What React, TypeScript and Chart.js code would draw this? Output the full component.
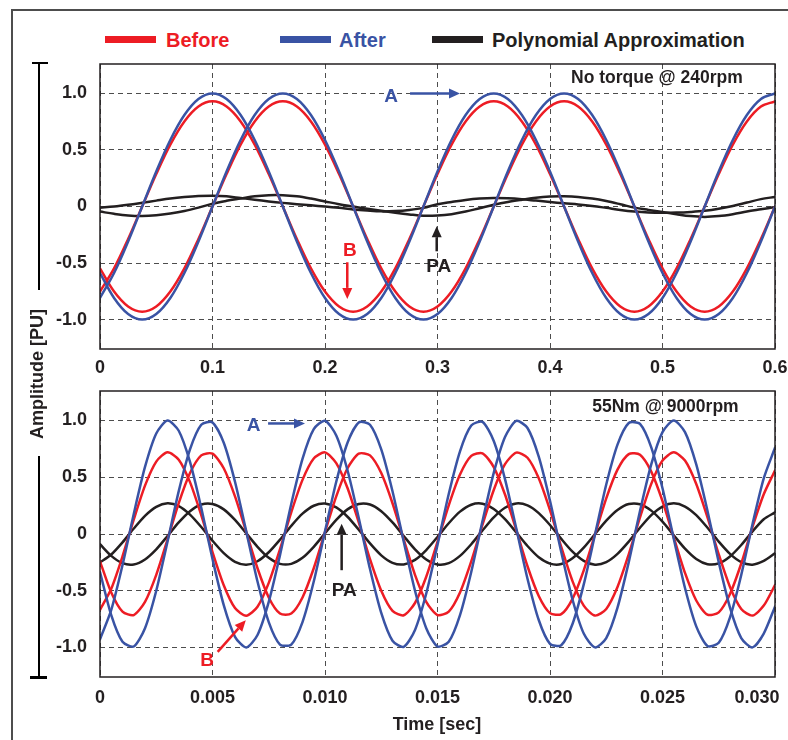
import React, { useEffect, useRef } from 'react';
import { Chart, registerables } from 'chart.js';

Chart.register(...registerables);

const FONT = '"Liberation Sans", Arial, Helvetica, sans-serif';
const RED = '#ed1c24';
const BLUE = '#3953a4';
const INK = '#231f20';
const GRID = '#4d4d4d';

// ---------- Top panel: No torque @ 240rpm ----------
const topTime = [0, 0.0125, 0.025, 0.0375, 0.05, 0.0625, 0.075, 0.0875, 0.1, 0.1125, 0.125, 0.1375, 0.15, 0.1625, 0.175, 0.1875, 0.2, 0.2125, 0.225, 0.2375, 0.25, 0.2625, 0.275, 0.2875, 0.3, 0.3125, 0.325, 0.3375, 0.35, 0.3625, 0.375, 0.3875, 0.4, 0.4125, 0.425, 0.4375, 0.45, 0.4625, 0.475, 0.4875, 0.5, 0.5125, 0.525, 0.5375, 0.55, 0.5625, 0.575, 0.5875, 0.6];
const topAfterA = [-0.809, -0.588, -0.309, 0, 0.309, 0.588, 0.809, 0.951, 1, 0.951, 0.809, 0.588, 0.309, 0, -0.309, -0.588, -0.809, -0.951, -1, -0.951, -0.809, -0.588, -0.309, 0, 0.309, 0.588, 0.809, 0.951, 1, 0.951, 0.809, 0.588, 0.309, 0, -0.309, -0.588, -0.809, -0.951, -1, -0.951, -0.809, -0.588, -0.309, 0, 0.309, 0.588, 0.809, 0.951, 1];
const topAfterB = [-0.588, -0.809, -0.951, -1, -0.951, -0.809, -0.588, -0.309, 0, 0.309, 0.588, 0.809, 0.951, 1, 0.951, 0.809, 0.588, 0.309, 0, -0.309, -0.588, -0.809, -0.951, -1, -0.951, -0.809, -0.588, -0.309, 0, 0.309, 0.588, 0.809, 0.951, 1, 0.951, 0.809, 0.588, 0.309, 0, -0.309, -0.588, -0.809, -0.951, -1, -0.951, -0.809, -0.588, -0.309, 0];
const topBeforeA = [-0.752, -0.547, -0.287, 0, 0.287, 0.547, 0.752, 0.884, 0.93, 0.884, 0.752, 0.547, 0.287, 0, -0.287, -0.547, -0.752, -0.884, -0.93, -0.884, -0.752, -0.547, -0.287, 0, 0.287, 0.547, 0.752, 0.884, 0.93, 0.884, 0.752, 0.547, 0.287, 0, -0.287, -0.547, -0.752, -0.884, -0.93, -0.884, -0.752, -0.547, -0.287, 0, 0.287, 0.547, 0.752, 0.884, 0.93];
const topBeforeB = [-0.547, -0.752, -0.884, -0.93, -0.884, -0.752, -0.547, -0.287, 0, 0.287, 0.547, 0.752, 0.884, 0.93, 0.884, 0.752, 0.547, 0.287, 0, -0.287, -0.547, -0.752, -0.884, -0.93, -0.884, -0.752, -0.547, -0.287, 0, 0.287, 0.547, 0.752, 0.884, 0.93, 0.884, 0.752, 0.547, 0.287, 0, -0.287, -0.547, -0.752, -0.884, -0.93, -0.884, -0.752, -0.547, -0.287, 0];
const topPolyA = [-0.01, 0.0, 0.015, 0.033, 0.052, 0.07, 0.083, 0.092, 0.095, 0.09, 0.075, 0.06, 0.045, 0.032, 0.02, 0.01, 0.0, -0.012, -0.026, -0.036, -0.043, -0.04, -0.03, -0.012, 0.02, 0.04, 0.058, 0.07, 0.075, 0.072, 0.064, 0.052, 0.04, 0.028, 0.018, 0.005, -0.012, -0.03, -0.044, -0.053, -0.056, -0.054, -0.048, -0.038, -0.02, 0.005, 0.035, 0.065, 0.085];
const topPolyB = [-0.045, -0.065, -0.08, -0.085, -0.078, -0.062, -0.04, -0.01, 0.025, 0.05, 0.07, 0.09, 0.1, 0.1, 0.09, 0.07, 0.045, 0.02, 0.0, -0.02, -0.038, -0.055, -0.07, -0.082, -0.08, -0.068, -0.045, -0.015, 0.015, 0.04, 0.06, 0.078, 0.088, 0.09, 0.085, 0.07, 0.048, 0.02, -0.01, -0.03, -0.048, -0.068, -0.085, -0.092, -0.085, -0.068, -0.045, -0.025, -0.005];
const topXTicks = [0, 0.1, 0.2, 0.3, 0.4, 0.5, 0.6];
const topXLabels = ['0', '0.1', '0.2', '0.3', '0.4', '0.5', '0.6'];

// ---------- Bottom panel: 55Nm @ 9000rpm ----------
const botTime = [0, 0.0005, 0.001, 0.0015, 0.002, 0.0025, 0.003, 0.0035, 0.004, 0.0045, 0.005, 0.0055, 0.006, 0.0065, 0.007, 0.0075, 0.008, 0.0085, 0.009, 0.0095, 0.01, 0.0105, 0.011, 0.0115, 0.012, 0.0125, 0.013, 0.0135, 0.014, 0.0145, 0.015, 0.0155, 0.016, 0.0165, 0.017, 0.0175, 0.018, 0.0185, 0.019, 0.0195, 0.02, 0.0205, 0.021, 0.0215, 0.022, 0.0225, 0.023, 0.0235, 0.024, 0.0245, 0.025, 0.0255, 0.026, 0.0265, 0.027, 0.0275, 0.028, 0.0285, 0.029, 0.0295, 0.03];
const botAfterA = [-0.928, -0.669, -0.274, 0.177, 0.591, 0.886, 1.0, 0.91, 0.635, 0.23, -0.221, -0.627, -0.906, -1.0, -0.89, -0.598, -0.186, 0.265, 0.662, 0.924, 0.998, 0.868, 0.562, 0.141, -0.309, -0.696, -0.941, -0.994, -0.845, -0.524, -0.096, 0.352, 0.728, 0.955, 0.988, 0.82, 0.484, 0.05, -0.394, -0.758, -0.968, -0.98, -0.793, -0.444, -0.005, 0.436, 0.787, 0.978, 0.97, 0.764, 0.403, -0.041, -0.476, -0.814, -0.987, -0.958, -0.734, -0.361, 0.086, 0.49, 0.76];
const botAfterB = [-0.335, -0.715, -0.95, -0.991, -0.83, -0.5, -0.068, 0.378, 0.746, 0.963, 0.983, 0.804, 0.46, 0.023, -0.419, -0.776, -0.974, -0.974, -0.776, -0.419, 0.023, 0.46, 0.804, 0.983, 0.963, 0.746, 0.377, -0.068, -0.5, -0.83, -0.991, -0.95, -0.715, -0.335, 0.114, 0.539, 0.854, 0.996, 0.934, 0.682, 0.292, -0.159, -0.577, -0.877, -0.999, -0.917, -0.649, -0.248, 0.203, 0.614, 0.898, 1.0, 0.898, 0.613, 0.203, -0.248, -0.649, -0.917, -0.999, -0.877, -0.64];
const botBeforeA = [-0.668, -0.482, -0.197, 0.127, 0.426, 0.638, 0.72, 0.655, 0.457, 0.166, -0.159, -0.451, -0.652, -0.72, -0.641, -0.431, -0.134, 0.191, 0.477, 0.665, 0.719, 0.625, 0.405, 0.102, -0.222, -0.501, -0.678, -0.716, -0.608, -0.377, -0.069, 0.253, 0.524, 0.688, 0.711, 0.59, 0.348, 0.036, -0.284, -0.546, -0.697, -0.706, -0.571, -0.32, -0.004, 0.314, 0.567, 0.704, 0.698, 0.55, 0.29, -0.03, -0.343, -0.586, -0.711, -0.69, -0.528, -0.26, 0.062, 0.35, 0.56];
const botBeforeB = [-0.241, -0.515, -0.684, -0.714, -0.598, -0.36, -0.049, 0.272, 0.537, 0.693, 0.708, 0.579, 0.331, 0.017, -0.302, -0.559, -0.701, -0.701, -0.559, -0.302, 0.017, 0.331, 0.579, 0.708, 0.693, 0.537, 0.271, -0.049, -0.36, -0.598, -0.714, -0.684, -0.515, -0.241, 0.082, 0.388, 0.615, 0.717, 0.672, 0.491, 0.21, -0.114, -0.415, -0.631, -0.719, -0.66, -0.467, -0.179, 0.146, 0.442, 0.647, 0.72, 0.647, 0.441, 0.146, -0.179, -0.467, -0.66, -0.719, -0.631, -0.45];
const botPolyA = [-0.251, -0.181, -0.074, 0.048, 0.16, 0.239, 0.27, 0.246, 0.171, 0.062, -0.06, -0.169, -0.245, -0.27, -0.24, -0.161, -0.05, 0.072, 0.179, 0.249, 0.269, 0.234, 0.152, 0.038, -0.083, -0.188, -0.254, -0.268, -0.228, -0.141, -0.026, 0.095, 0.197, 0.258, 0.267, 0.221, 0.131, 0.014, -0.106, -0.205, -0.261, -0.265, -0.214, -0.12, -0.001, 0.118, 0.212, 0.264, 0.262, 0.206, 0.109, -0.011, -0.129, -0.22, -0.266, -0.259, -0.198, -0.097, 0.023, 0.13, 0.19];
const botPolyB = [-0.09, -0.193, -0.257, -0.268, -0.224, -0.135, -0.018, 0.102, 0.201, 0.26, 0.265, 0.217, 0.124, 0.006, -0.113, -0.21, -0.263, -0.263, -0.21, -0.113, 0.006, 0.124, 0.217, 0.265, 0.26, 0.201, 0.102, -0.018, -0.135, -0.224, -0.268, -0.257, -0.193, -0.09, 0.031, 0.146, 0.231, 0.269, 0.252, 0.184, 0.079, -0.043, -0.156, -0.237, -0.27, -0.248, -0.175, -0.067, 0.055, 0.166, 0.242, 0.27, 0.242, 0.166, 0.055, -0.067, -0.175, -0.248, -0.27, -0.237, -0.17];
const botXTicks = [0, 0.005, 0.01, 0.015, 0.02, 0.025, 0.03];
const botXLabels = ['0', '0.005', '0.010', '0.015', '0.020', '0.025', '0.030'];

// ---------- shared y axis ----------
const yTicks = [-1, -0.5, 0, 0.5, 1];
const yLabels = ['-1.0', '-0.5', '0', '0.5', '1.0'];
const Y_MIN = -1.26;
const Y_MAX = 1.26;

type Note = { text: string; x: number; y: number; color: string; size: number };
type Arrow = { x1: number; y1: number; x2: number; y2: number; color: string };

const topNotes: Note[] = [
  { text: 'No torque @ 240rpm', x: 0.495, y: 1.133, color: INK, size: 17.5 },
  { text: 'A', x: 0.2587, y: 0.973, color: BLUE, size: 19 },
  { text: 'B', x: 0.222, y: -0.388, color: RED, size: 19 },
  { text: 'PA', x: 0.3012, y: -0.535, color: INK, size: 19 },
];
const topArrows: Arrow[] = [
  { x1: 0.2756, y1: 1.0, x2: 0.32, y2: 1.0, color: BLUE },
  { x1: 0.2198, y1: -0.493, x2: 0.2198, y2: -0.817, color: RED },
  { x1: 0.2993, y1: -0.396, x2: 0.2993, y2: -0.174, color: INK },
];
const botNotes: Note[] = [
  { text: '55Nm @ 9000rpm', x: 0.02513, y: 1.117, color: INK, size: 17.5 },
  { text: 'A', x: 0.00683, y: 0.955, color: BLUE, size: 19 },
  { text: 'PA', x: 0.01085, y: -0.502, color: INK, size: 19 },
  { text: 'B', x: 0.00476, y: -1.118, color: RED, size: 19 },
];
const botArrows: Arrow[] = [
  { x1: 0.00747, y1: 0.974, x2: 0.00911, y2: 0.974, color: BLUE },
  { x1: 0.01074, y1: -0.319, x2: 0.01074, y2: 0.091, color: INK },
  { x1: 0.00523, y1: -1.038, x2: 0.00648, y2: -0.759, color: RED },
];

function notesPlugin(notes: Note[], arrows: Arrow[]) {
  return {
    id: 'notes',
    afterDatasetsDraw(chart: any) {
      const { ctx, chartArea: a, scales } = chart;
      const sx = scales.x;
      const sy = scales.y;
      ctx.save();
      ctx.setLineDash([]);
      ctx.strokeStyle = INK;
      ctx.lineWidth = 1.5;
      ctx.strokeRect(a.left, a.top, a.right - a.left, a.bottom - a.top);
      for (const n of notes) {
        ctx.font = `bold ${n.size}px ${FONT}`;
        ctx.fillStyle = n.color;
        ctx.textAlign = 'center';
        ctx.textBaseline = 'middle';
        ctx.fillText(n.text, sx.getPixelForValue(n.x), sy.getPixelForValue(n.y));
      }
      for (const ar of arrows) {
        const x1 = sx.getPixelForValue(ar.x1);
        const y1 = sy.getPixelForValue(ar.y1);
        const x2 = sx.getPixelForValue(ar.x2);
        const y2 = sy.getPixelForValue(ar.y2);
        const ang = Math.atan2(y2 - y1, x2 - x1);
        const L = 11;
        const W = 5;
        const bx = x2 - L * Math.cos(ang);
        const by = y2 - L * Math.sin(ang);
        ctx.strokeStyle = ar.color;
        ctx.lineWidth = 2.5;
        ctx.beginPath();
        ctx.moveTo(x1, y1);
        ctx.lineTo(bx, by);
        ctx.stroke();
        ctx.fillStyle = ar.color;
        ctx.beginPath();
        ctx.moveTo(x2, y2);
        ctx.lineTo(bx + W * Math.sin(ang), by - W * Math.cos(ang));
        ctx.lineTo(bx - W * Math.sin(ang), by + W * Math.cos(ang));
        ctx.closePath();
        ctx.fill();
      }
      ctx.restore();
    },
  };
}

type PanelProps = {
  top: number;
  height: number;
  padTop: number;
  xAxisHeight: number;
  xPad: number;
  time: number[];
  series: { values: number[]; color: string }[];
  xMax: number;
  xTicks: number[];
  xLabels: string[];
  lastLabelShift: number;
  notes: Note[];
  arrows: Arrow[];
  tension: number;
};

const CANVAS_W = 830;

function Panel(p: PanelProps) {
  const ref = useRef<HTMLCanvasElement>(null);
  useEffect(() => {
    const tickFont = { family: FONT, size: 18, weight: 'bold' as const };
    const chart = new Chart(ref.current as HTMLCanvasElement, {
      type: 'line',
      data: {
        datasets: p.series.map((s) => ({
          data: p.time.map((t, i) => ({ x: t, y: s.values[i] })),
          borderColor: s.color,
          borderWidth: 2.5,
          pointRadius: 0,
          fill: false,
          tension: p.tension,
          borderJoinStyle: 'round' as const,
          borderCapStyle: 'round' as const,
        })),
      },
      options: {
        animation: false,
        responsive: false,
        devicePixelRatio: 1,
        events: [],
        layout: { padding: { top: p.padTop, right: CANVAS_W - 775, left: 0, bottom: 0 } },
        plugins: { legend: { display: false }, tooltip: { enabled: false }, title: { display: false } },
        scales: {
          x: {
            type: 'linear',
            min: 0,
            max: p.xMax,
            afterFit: (s: any) => {
              s.height = p.xAxisHeight;
            },
            afterBuildTicks: (s: any) => {
              s.ticks = p.xTicks.map((v) => ({ value: v }));
            },
            ticks: {
              autoSkip: false,
              maxRotation: 0,
              minRotation: 0,
              padding: p.xPad,
              color: INK,
              font: tickFont,
              callback: (_v: any, i: number) =>
                i === p.xLabels.length - 1 && p.lastLabelShift > 0
                  ? p.xLabels[i] + '\u2002'.repeat(p.lastLabelShift)
                  : p.xLabels[i],
            },
            grid: { color: GRID, lineWidth: 1, drawTicks: false },
            border: { display: false, dash: [5, 4] },
          },
          y: {
            type: 'linear',
            min: Y_MIN,
            max: Y_MAX,
            afterFit: (s: any) => {
              s.width = 100;
            },
            afterBuildTicks: (s: any) => {
              s.ticks = yTicks.map((v) => ({ value: v }));
            },
            ticks: {
              autoSkip: false,
              padding: 13,
              color: INK,
              font: tickFont,
              callback: (_v: any, i: number) => yLabels[i],
            },
            grid: { color: GRID, lineWidth: 1, drawTicks: false },
            border: { display: false, dash: [5, 4] },
          },
        },
      },
      plugins: [notesPlugin(p.notes, p.arrows)],
    } as any);
    return () => chart.destroy();
  }, []);
  return (
    <canvas
      ref={ref}
      width={CANVAS_W}
      height={p.height}
      style={{ position: 'absolute', left: 0, top: p.top, width: CANVAS_W, height: p.height }}
    />
  );
}

const textBase: React.CSSProperties = {
  position: 'absolute',
  fontFamily: FONT,
  fontWeight: 'bold',
  whiteSpace: 'nowrap',
};

export default function App() {
  return (
    <div
      style={{
        position: 'fixed',
        left: 0,
        top: 0,
        width: 788,
        height: 740,
        overflow: 'hidden',
        background: '#fff',
      }}
    >
      {/* outer frame */}
      <div
        style={{
          position: 'absolute',
          left: 11,
          top: 9,
          width: 900,
          height: 900,
          borderLeft: '2px solid #4d4d4d',
          borderTop: '2px solid #4d4d4d',
        }}
      />
      {/* legend */}
      <div style={{ position: 'absolute', left: 105, top: 36, width: 51, height: 6.5, background: RED }} />
      <div style={{ ...textBase, left: 166, top: 30, fontSize: 20, lineHeight: '20px', color: RED }}>Before</div>
      <div style={{ position: 'absolute', left: 280, top: 36, width: 51, height: 6.5, background: BLUE }} />
      <div style={{ ...textBase, left: 339, top: 30, fontSize: 20, lineHeight: '20px', color: BLUE }}>After</div>
      <div style={{ position: 'absolute', left: 432, top: 36, width: 51, height: 6.5, background: INK }} />
      <div style={{ ...textBase, left: 492, top: 30, fontSize: 20, lineHeight: '20px', color: INK }}>
        Polynomial Approximation
      </div>

      <Panel
        top={0}
        height={385}
        padTop={64}
        xAxisHeight={36}
        xPad={8}
        time={topTime}
        series={[
          { values: topAfterA, color: BLUE },
          { values: topAfterB, color: BLUE },
          { values: topBeforeA, color: RED },
          { values: topBeforeB, color: RED },
          { values: topPolyA, color: INK },
          { values: topPolyB, color: INK },
        ]}
        xMax={0.6}
        xTicks={topXTicks}
        xLabels={topXLabels}
        lastLabelShift={0}
        notes={topNotes}
        arrows={topArrows}
        tension={0.35}
      />
      <Panel
        top={360}
        height={380}
        padTop={31}
        xAxisHeight={63}
        xPad={10}
        time={botTime}
        series={[
          { values: botAfterA, color: BLUE },
          { values: botAfterB, color: BLUE },
          { values: botBeforeA, color: RED },
          { values: botBeforeB, color: RED },
          { values: botPolyA, color: INK },
          { values: botPolyB, color: INK },
        ]}
        xMax={0.03}
        xTicks={botXTicks}
        xLabels={botXLabels}
        lastLabelShift={4}
        notes={botNotes}
        arrows={botArrows}
        tension={0.25}
      />

      {/* shared y-axis title with bracket */}
      <div style={{ position: 'absolute', left: 37.5, top: 63, width: 2, height: 227, background: '#000' }} />
      <div style={{ position: 'absolute', left: 32, top: 62, width: 16, height: 2, background: '#000' }} />
      <div style={{ position: 'absolute', left: 37.5, top: 456, width: 2, height: 222, background: '#000' }} />
      <div style={{ position: 'absolute', left: 30, top: 676, width: 17, height: 2.5, background: '#000' }} />
      <div
        style={{
          ...textBase,
          left: 36.5,
          top: 374,
          fontSize: 18,
          lineHeight: '18px',
          color: INK,
          transform: 'translate(-50%, -50%) rotate(-90deg)',
        }}
      >
        Amplitude [PU]
      </div>
      {/* x-axis title */}
      <div
        style={{
          ...textBase,
          left: 437,
          top: 724,
          fontSize: 18,
          lineHeight: '18px',
          color: INK,
          transform: 'translate(-50%, -50%)',
        }}
      >
        Time [sec]
      </div>
    </div>
  );
}
